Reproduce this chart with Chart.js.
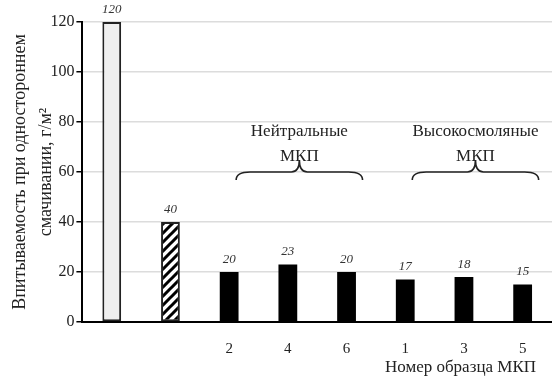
<!DOCTYPE html>
<html>
<head>
<meta charset="utf-8">
<script src="https://cdn.jsdelivr.net/npm/chart.js@4.4.1/dist/chart.umd.min.js"></script>
<style>
  html, body { margin: 0; padding: 0; background: #fff; }
  #wrap { width: 552px; height: 376px; }
</style>
</head>
<body>
<div id="wrap"><canvas id="absorbChart"></canvas></div>
<script>
// Data
const sampleLabels = ['', '', '2', '4', '6', '1', '3', '5'];
const absorbValues = [120, 40, 20, 23, 20, 17, 18, 15];
const yTicks = [0, 20, 40, 60, 80, 100, 120];
const groupNames = [['Нейтральные', 'МКП'], ['Высокосмоляные', 'МКП']];
const groupRanges = [[2, 4], [5, 7]];
const xTitle = 'Номер образца МКП';

const SERIF = '"Times New Roman", "Liberation Serif", serif';

// Diagonal hatch for the second bar
function makeHatch() {
    const c = document.createElement('canvas');
    c.width = 9; c.height = 9;
    const g = c.getContext('2d');
    g.fillStyle = '#fff';
    g.fillRect(0, 0, 9, 9);
    g.strokeStyle = '#000';
    g.lineWidth = 3;
    g.beginPath();
    g.moveTo(-3, 12); g.lineTo(12, -3);
    g.moveTo(-3, 3); g.lineTo(3, -3);
    g.moveTo(6, 12); g.lineTo(12, 6);
    g.stroke();
    return g.createPattern(c, 'repeat');
}

const fills = absorbValues.map((v, i) => i === 0 ? '#efefef' : (i === 1 ? makeHatch() : '#000'));
const borders = absorbValues.map((v, i) => i < 2 ? '#222' : '#000');
const borderW = absorbValues.map((v, i) => i < 2 ? 2 : 0);

// Value labels above bars, braces with group captions, x axis title
const annotatePlugin = {
    id: 'annotate',
    afterDatasetsDraw(chart) {
        const ctx = chart.ctx;
        const meta = chart.getDatasetMeta(0);
        ctx.save();
        ctx.font = 'italic 13px ' + SERIF;
        ctx.fillStyle = '#333';
        ctx.textAlign = 'center';
        ctx.textBaseline = 'bottom';
        meta.data.forEach((bar, i) => {
            ctx.fillText(String(absorbValues[i]), bar.x, bar.y - 6);
        });

        const xs = chart.scales.x;
        const ys = chart.scales.y;
        const braceY = ys.getPixelForValue(60);
        groupRanges.forEach((r, k) => {
            const x0 = xs.getPixelForValue(r[0]) + 7;
            const x1 = xs.getPixelForValue(r[1]) + 16;
            const xm = (x0 + x1) / 2;
            const top = braceY - 12;
            const bot = braceY + 8;
            ctx.strokeStyle = '#222';
            ctx.lineWidth = 1.6;
            ctx.beginPath();
            ctx.moveTo(x0, bot);
            ctx.quadraticCurveTo(x0, braceY, x0 + 14, braceY);
            ctx.lineTo(xm - 8, braceY);
            ctx.quadraticCurveTo(xm, braceY, xm, top);
            ctx.quadraticCurveTo(xm, braceY, xm + 8, braceY);
            ctx.lineTo(x1 - 14, braceY);
            ctx.quadraticCurveTo(x1, braceY, x1, bot);
            ctx.stroke();

            ctx.fillStyle = '#222';
            ctx.font = '17px ' + SERIF;
            ctx.textBaseline = 'middle';
            ctx.fillText(groupNames[k][0], xm, ys.getPixelForValue(76));
            ctx.fillText(groupNames[k][1], xm, ys.getPixelForValue(66));
        });

        ctx.font = '17px ' + SERIF;
        ctx.textAlign = 'right';
        ctx.textBaseline = 'middle';
        ctx.fillStyle = '#222';
        ctx.fillText(xTitle, chart.chartArea.right - 16, 368);
        ctx.restore();
    }
};

const ctx = document.getElementById('absorbChart').getContext('2d');
new Chart(ctx, {
    type: 'bar',
    data: {
        labels: sampleLabels,
        datasets: [{
            data: absorbValues,
            backgroundColor: fills,
            borderColor: borders,
            borderWidth: borderW,
            borderSkipped: false,
            barPercentage: 0.32,
            categoryPercentage: 1.0
        }]
    },
    options: {
        responsive: true,
        maintainAspectRatio: false,
        animation: false,
        layout: { padding: { top: 22, right: 0, left: 8, bottom: 0 } },
        plugins: {
            legend: { display: false },
            tooltip: { enabled: false }
        },
        scales: {
            x: {
                grid: { display: false, drawTicks: false },
                border: { color: '#000', width: 2 },
                ticks: {
                    color: '#222',
                    padding: 18,
                    font: { family: SERIF, size: 15 }
                }
            },
            y: {
                min: 0,
                max: 120,
                afterBuildTicks(axis) {
                    axis.ticks = yTicks.map(v => ({ value: v }));
                },
                grid: {
                    color: '#dcdcdc',
                    lineWidth: 1.5,
                    tickColor: '#000',
                    tickLength: 6
                },
                border: { color: '#000', width: 2 },
                ticks: {
                    color: '#222',
                    padding: 2,
                    font: { family: SERIF, size: 16 }
                },
                title: {
                    display: true,
                    text: ['Впитываемость при одностороннем', 'смачивании, г/м²'],
                    color: '#222',
                    padding: { top: 0, bottom: -10 },
                    font: { family: SERIF, size: 18, lineHeight: 1.4 }
                }
            }
        }
    },
    plugins: [annotatePlugin]
});
</script>
</body>
</html>
